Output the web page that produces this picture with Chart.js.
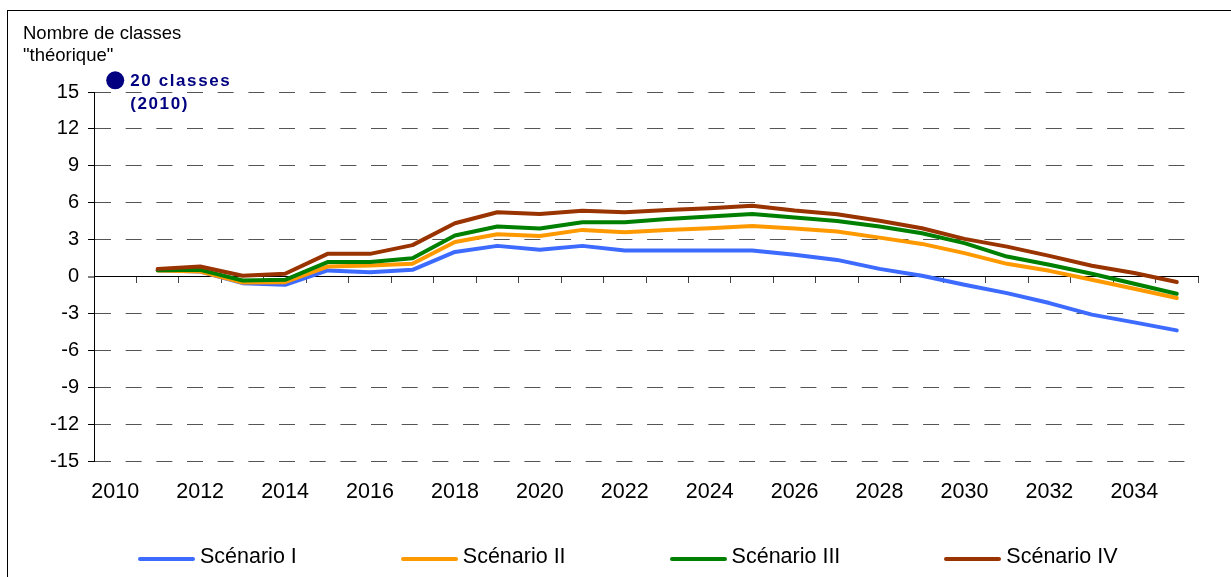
<!DOCTYPE html>
<html>
<head>
<meta charset="utf-8">
<script src="https://cdn.jsdelivr.net/npm/chart.js@4.4.1/dist/chart.umd.min.js"></script>
<style>
  html, body { margin: 0; padding: 0; background: #fff; }
  body { width: 1231px; height: 577px; position: relative; overflow: hidden; font-family: "Liberation Sans", Arial, sans-serif; }
  #frame { position: absolute; left: 7px; top: 10px; width: 1240px; height: 620px; border: 1px solid #000; box-sizing: border-box; }
  #wrap { position: absolute; left: 0; top: 0; width: 1231px; height: 577px; }
  #yTitle { position: absolute; left: 23px; top: 22px; font-size: 18.5px; line-height: 22px; color: #000; }
  #legend { position: absolute; left: 138px; top: 543px; height: 26px; display: flex; gap: 104px; font-size: 21.5px; line-height: 26px; color: #000; }
  .item { display: flex; align-items: center; }
  .swatch { width: 57px; height: 4px; border-radius: 2px; margin-right: 5px; margin-top: 5px; }
</style>
</head>
<body>
<div id="frame"></div>
<div id="wrap"><canvas id="chart"></canvas></div>
<div id="yTitle">Nombre de classes<br>"théorique"</div>
<div id="legend"></div>

<script>
// années (catégories)
const years = ['2010', '2011', '2012', '2013', '2014', '2015', '2016', '2017', '2018', '2019', '2020', '2021', '2022',
  '2023', '2024', '2025', '2026', '2027', '2028', '2029', '2030', '2031', '2032', '2033', '2034', '2035'];

// écart au nombre de classes 2010, par scénario
const scenario1 = [null, 0.5, 0.4, -0.54, -0.67, 0.49, 0.35, 0.54, 2.0, 2.49, 2.17, 2.49, 2.11, 2.11, 2.11, 2.11, 1.76, 1.35, 0.62, 0.06, -0.67, -1.35, -2.16, -3.1, -3.73, -4.38];
const scenario2 = [null, 0.49, 0.4, -0.49, -0.46, 0.81, 0.9, 1.03, 2.81, 3.44, 3.3, 3.79, 3.6, 3.79, 3.92, 4.11, 3.9, 3.65, 3.16, 2.65, 1.9, 1.03, 0.46, -0.27, -1.0, -1.75];
const scenario3 = [null, 0.5, 0.54, -0.32, -0.27, 1.17, 1.17, 1.49, 3.34, 4.06, 3.9, 4.41, 4.41, 4.68, 4.87, 5.08, 4.8, 4.52, 4.06, 3.52, 2.71, 1.62, 0.95, 0.22, -0.59, -1.4];
const scenario4 = [null, 0.62, 0.81, 0.06, 0.22, 1.84, 1.84, 2.55, 4.33, 5.22, 5.08, 5.35, 5.22, 5.41, 5.55, 5.76, 5.37, 5.06, 4.54, 3.92, 3.06, 2.43, 1.68, 0.87, 0.28, -0.45];

// point de référence 2010 (hors échelle)
const marker2010 = [15.95];
const markerLabel = ['20 classes', '(2010)'];

const seriesNames = ['Scénario I', 'Scénario II', 'Scénario III', 'Scénario IV'];
const seriesColors = ['#3d6bff', '#ff9900', '#008000', '#993300'];
const seriesData = [scenario1, scenario2, scenario3, scenario4];

const yTicks = [-15, -12, -9, -6, -3, 0, 3, 6, 9, 12, 15];

Chart.defaults.font.family = '"Liberation Sans", Arial, sans-serif';
Chart.defaults.color = '#000';

// point 2010 + texte (le point est hors zone, Chart.js ne le dessine pas)
const markerText = {
  id: 'markerText',
  afterDatasetsDraw(chart) {
    const meta = chart.getDatasetMeta(4);
    const pt = meta.data[0];
    if (!pt) return;
    const ctx = chart.ctx;
    ctx.save();
    ctx.fillStyle = '#000080';
    ctx.beginPath();
    ctx.arc(pt.x, pt.y, 9, 0, Math.PI * 2);
    ctx.fill();
    ctx.font = 'bold 17px "Liberation Sans", Arial, sans-serif';
    ctx.letterSpacing = '1.6px';
    ctx.textBaseline = 'middle';
    ctx.fillText(markerLabel[0], pt.x + 15, pt.y + 1);
    ctx.fillText(markerLabel[1], pt.x + 15, pt.y + 24);
    ctx.restore();
  }
};

const datasets = seriesData.map((d, i) => ({
  label: seriesNames[i],
  data: d,
  borderColor: seriesColors[i],
  backgroundColor: seriesColors[i],
  borderWidth: 4,
  pointRadius: 0,
  tension: 0,
  borderJoinStyle: 'round',
  borderCapStyle: 'round',
  order: 4 - i + 1,
  xAxisID: 'x',
}));

datasets.push({
  label: 'marker',
  data: marker2010,
  showLine: false,
  pointRadius: 9,
  pointBackgroundColor: '#000080',
  pointBorderWidth: 0,
  clip: false,
  order: 0,
  xAxisID: 'x',
});

new Chart(document.getElementById('chart'), {
  type: 'line',
  data: { labels: years, datasets },
  plugins: [markerText],
  options: {
    responsive: true,
    maintainAspectRatio: false,
    animation: false,
    layout: { padding: { top: 92, right: 33, bottom: 66, left: 0 } },
    plugins: {
      legend: { display: false },
      tooltip: { enabled: false },
    },
    scales: {
      x: {
        type: 'category',
        labels: years,
        position: 'bottom',
        offset: true,
        grid: { display: false, drawTicks: false },
        border: { display: false },
        ticks: {
          autoSkip: false,
          maxRotation: 0,
          padding: 18,
          font: { size: 21.5 },
          callback: function (v, i) { return i % 2 === 0 ? years[i] : ''; },
        },
        afterFit(scale) { scale.height = 50; },
      },
      x0: {
        type: 'category',
        labels: years,
        position: { y: 0 },
        offset: true,
        grid: { offset: true, drawOnChartArea: false, drawTicks: true, tickLength: 6, tickColor: '#444', tickWidth: 1 },
        border: { display: true, color: '#000', width: 1 },
        ticks: { display: false },
      },
      y: {
        min: -15,
        max: 15,
        afterBuildTicks(scale) { scale.ticks = yTicks.map(v => ({ value: v })); },
        ticks: { padding: 9, font: { size: 20 } },
        grid: {
          color: '#555',
          lineWidth: (c) => (c.tick && c.tick.value === 0 ? 0 : 1),
          tickLength: 6,
          tickColor: '#000',
          tickWidth: 1,
        },
        border: { display: true, color: '#000', width: 1, dash: [16, 14.67] },
        afterFit(scale) { scale.width = 94; },
      },
    },
  },
});

// légende
const legend = document.getElementById('legend');
seriesNames.forEach((name, i) => {
  const item = document.createElement('div');
  item.className = 'item';
  const sw = document.createElement('span');
  sw.className = 'swatch';
  sw.style.background = seriesColors[i];
  const txt = document.createElement('span');
  txt.textContent = name;
  item.appendChild(sw);
  item.appendChild(txt);
  legend.appendChild(item);
});
</script>
</body>
</html>
